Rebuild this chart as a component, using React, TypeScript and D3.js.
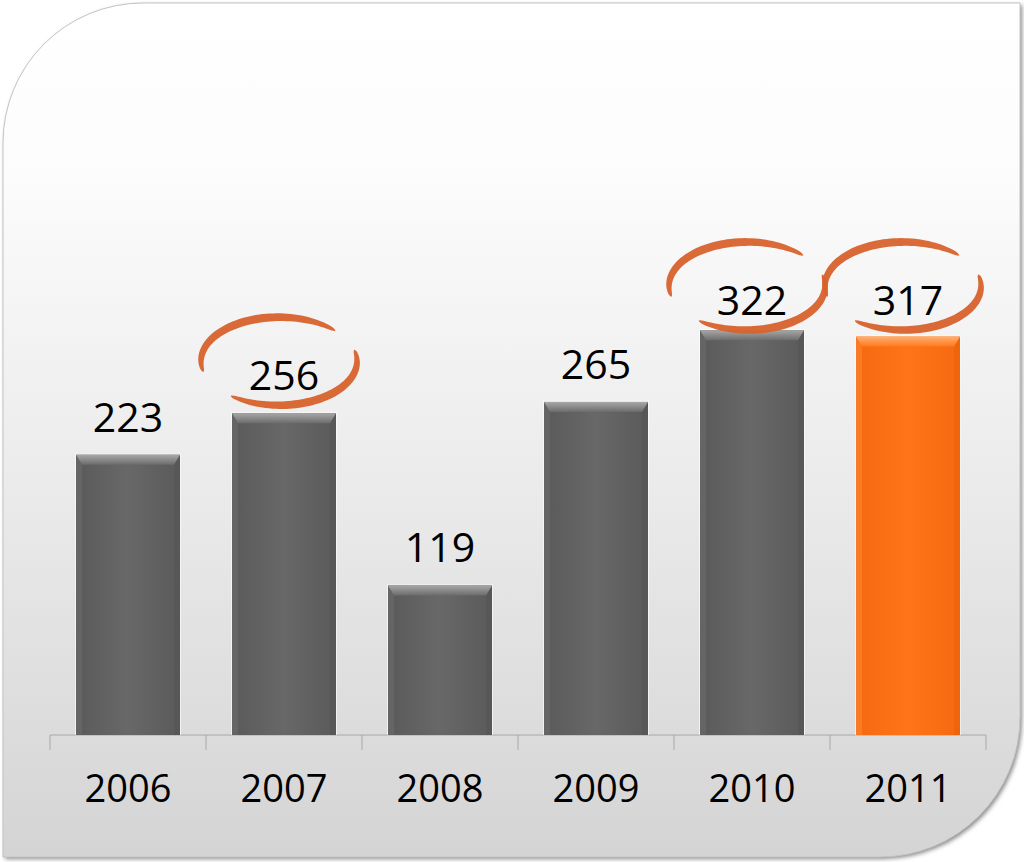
import React from "react";
import * as d3 from "d3";

const years = ["2006", "2007", "2008", "2009", "2010", "2011"];
const values = [223, 256, 119, 265, 322, 317];
const highlightedYears = ["2007", "2010", "2011"];
const emphasisYear = "2011";

const W = 1024;
const H = 862;
const baseY = 735;
const pxPerUnit = 1.257;
const plotTop = 286;
const FONT = "'Open Sans', 'Liberation Sans', sans-serif";

function taperedArc(cx: number, cy: number, rx: number, ry: number, t0: number, t1: number, maxW: number) {
  const n = 60;
  const outer: [number, number][] = [];
  const inner: [number, number][] = [];
  for (let i = 0; i <= n; i++) {
    const s = i / n;
    const t = t0 + (t1 - t0) * s;
    const w = maxW * Math.pow(Math.sin(Math.PI * s), 0.4) + 0.8;
    const c = Math.cos(t), sn = Math.sin(t);
    outer.push([cx + (rx + w / 2) * c, cy + (ry + w / 2) * sn]);
    inner.push([cx + (rx - w / 2) * c, cy + (ry - w / 2) * sn]);
  }
  const pts = outer.concat(inner.reverse());
  return d3.line()(pts) + "Z";
}

export default function App() {
  const x = d3.scaleBand<string>().domain(years).range([50, 986]).paddingInner(1 / 3).paddingOuter(1 / 6);
  const y = d3.scaleLinear().domain([0, 350]).range([baseY, baseY - 350 * pxPerUnit]);
  const step = x.step();
  const x0 = 50;
  const bw = x.bandwidth();

  const r = 140;
  const L = 3, T = 3, R = 1020, B = 857;
  const bgPath = `M${L},${T + r} A${r},${r} 0 0 1 ${L + r},${T} L${R},${T} L${R},${B - r} A${r},${r} 0 0 1 ${R - r},${B} L${L},${B} Z`;

  const deg = Math.PI / 180;

  return (
    <svg width={W} height={H} style={{ position: "absolute", left: 0, top: 0, background: "#fff" }}>
      <defs>
        <linearGradient id="bg" x1="0" y1="0" x2="0" y2="1">
          <stop offset="0" stopColor="#ffffff" />
          <stop offset="0.2" stopColor="#fcfcfc" />
          <stop offset="0.6" stopColor="#e9e9e9" />
          <stop offset="1" stopColor="#d4d4d4" />
        </linearGradient>
        <filter id="shadow" x="-5%" y="-5%" width="110%" height="110%">
          <feGaussianBlur stdDeviation="2" />
        </filter>
        <linearGradient id="grayBody" x1="0" y1="0" x2="1" y2="0">
          <stop offset="0" stopColor="#5a5a5a" />
          <stop offset="0.5" stopColor="#686868" />
          <stop offset="1" stopColor="#5a5a5a" />
        </linearGradient>
        <linearGradient id="grayTop" x1="0" y1="0" x2="0" y2="1">
          <stop offset="0" stopColor="#a8a8a8" />
          <stop offset="1" stopColor="#6c6c6c" />
        </linearGradient>
        <linearGradient id="orangeBody" x1="0" y1="0" x2="1" y2="0">
          <stop offset="0" stopColor="#f56a10" />
          <stop offset="0.5" stopColor="#ff7418" />
          <stop offset="1" stopColor="#f56a10" />
        </linearGradient>
        <linearGradient id="orangeTop" x1="0" y1="0" x2="0" y2="1">
          <stop offset="0" stopColor="#ffb070" />
          <stop offset="1" stopColor="#ff7a20" />
        </linearGradient>
      </defs>

      <path d={bgPath} transform="translate(2,2)" fill="#8a8a8a" filter="url(#shadow)" />
      <path d={bgPath} fill="url(#bg)" stroke="#c4c4c4" strokeWidth={1} />

      {/* axis */}
      <line x1={x0} x2={x0 + step * years.length} y1={baseY} y2={baseY} stroke="#a8a8a8" strokeWidth={1} />
      {d3.range(years.length + 1).map((i) => (
        <line key={"t" + i} x1={x0 + i * step} x2={x0 + i * step} y1={baseY} y2={baseY + 15} stroke="#a8a8a8" strokeWidth={1} />
      ))}

      {/* bars */}
      {years.map((yr, i) => {
        const bx = x(yr)!;
        const top = y(values[i]);
        const h = baseY - top;
        const orange = yr === emphasisYear;
        const bev = 10, side = 6;
        return (
          <g key={yr}>
            <rect x={bx - 1} y={top - 1} width={bw + 2} height={h + 1} fill="#ffffff" opacity={0.6} />
            <rect x={bx} y={top} width={bw} height={h} fill={orange ? "url(#orangeBody)" : "url(#grayBody)"} />
            <polygon
              points={`${bx},${top} ${bx + side},${top + bev} ${bx + side},${baseY} ${bx},${baseY}`}
              fill={orange ? "#ff8a3a" : "#707070"}
              opacity={0.5}
            />
            <polygon
              points={`${bx + bw},${top} ${bx + bw - side},${top + bev} ${bx + bw - side},${baseY} ${bx + bw},${baseY}`}
              fill={orange ? "#e85f08" : "#545454"}
              opacity={0.5}
            />
            <polygon
              points={`${bx},${top} ${bx + bw},${top} ${bx + bw - side},${top + bev} ${bx + side},${top + bev}`}
              fill={orange ? "url(#orangeTop)" : "url(#grayTop)"}
            />
          </g>
        );
      })}

      {/* value labels */}
      {years.map((yr, i) => {
        const cx = x(yr)! + bw / 2;
        const by = Math.max(y(values[i]) - 23, plotTop + 29);
        return (
          <text key={"v" + yr} x={cx} y={by} textAnchor="middle" fontFamily={FONT} fontSize={41} fill="#000">
            {values[i]}
          </text>
        );
      })}

      {/* highlight ellipses */}
      {years.map((yr, i) => {
        if (!highlightedYears.includes(yr)) return null;
        const cx = x(yr)! + bw / 2 - 5;
        const by = Math.max(y(values[i]) - 23, plotTop + 29);
        const cy = by - 29;
        const rx = 78, ry = 44;
        return (
          <g key={"e" + yr} fill="#d8622c" opacity={0.95}>
            <path d={taperedArc(cx, cy, rx, ry, 166 * deg, 316 * deg, 7.5)} />
            <path d={taperedArc(cx, cy, rx, ry, -15 * deg, 128 * deg, 7.5)} />
          </g>
        );
      })}

      {/* year labels */}
      {years.map((yr) => (
        <text key={"y" + yr} x={x(yr)! + bw / 2} y={802} textAnchor="middle" fontFamily={FONT} fontSize={38} fill="#000">
          {yr}
        </text>
      ))}
    </svg>
  );
}
